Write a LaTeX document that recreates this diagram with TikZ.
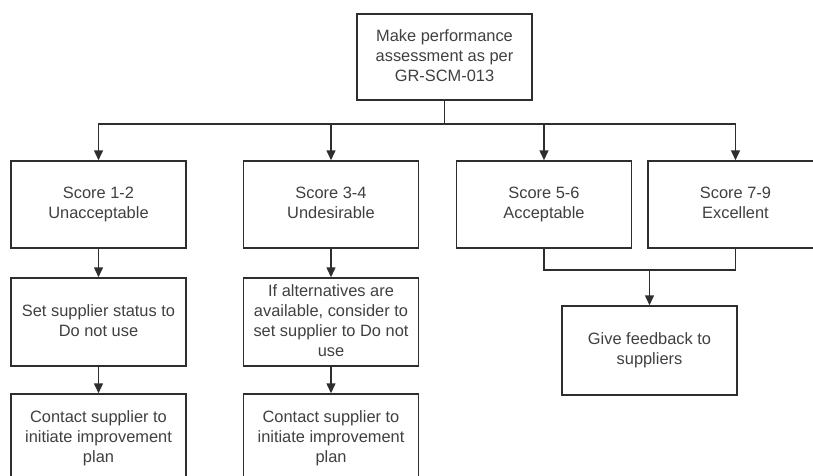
\documentclass[tikz,border=0pt]{standalone}
\usepackage{fontspec}
\setmainfont{Liberation Sans}
\usetikzlibrary{arrows.meta}
\definecolor{linec}{HTML}{2E2E2E}
\definecolor{textc}{HTML}{404040}
\tikzset{
  box/.style={draw=linec, line width=1.5pt, fill=white, rectangle, minimum width=175pt, minimum height=87pt,
    align=center, text=textc, inner sep=0pt, font=\fontsize{16.4}{20}\selectfont,
    execute at begin node={\vphantom{Ay}}, execute at end node={\vphantom{Ay}}},
  conn/.style={draw=linec, line width=1.5pt},
  arr/.style={conn, -{Triangle[length=10pt,width=9pt]}}
}
\begin{document}
\begin{tikzpicture}[x=1pt,y=-1pt]
\useasboundingbox (0,0) rectangle (813,476);
\node[box, minimum height=86pt] (top) at (444.5,57) {Make performance\\assessment as per\\GR-SCM-013};
\node[box] (b1) at (98.5,204.5) {Score 1-2\\Unacceptable};
\node[box] (b2) at (331,204.5) {Score 3-4\\Undesirable};
\node[box] (b3) at (544,204.5) {Score 5-6\\Acceptable};
\node[box] (b4) at (735.5,204.5) {Score 7-9\\Excellent};
\node[box, minimum height=88pt] (c1) at (98.5,322) {Set supplier status to\\Do not use};
\node[box, minimum height=88pt] (c2) at (331,322) {If alternatives are\\available, consider to\\set supplier to Do not\\use};
\node[box, minimum height=88pt] (d1) at (98.5,438) {Contact supplier to\\initiate improvement\\plan};
\node[box, minimum height=88pt] (d2) at (331,438) {Contact supplier to\\initiate improvement\\plan};
\node[box, minimum height=89pt] (fb) at (649.5,350.5) {Give feedback to\\suppliers};
\coordinate (bus) at (444.5,124);
\coordinate (join) at (649.5,270);
\draw[conn] (top.south) -- (bus);
\draw[arr] (bus) -| (b1.north);
\draw[arr] (bus) -| (b2.north);
\draw[arr] (bus) -| (b3.north);
\draw[arr] (bus) -| (b4.north);
\draw[arr] (b1.south) -- (c1.north);
\draw[arr] (c1.south) -- (d1.north);
\draw[arr] (b2.south) -- (c2.north);
\draw[arr] (c2.south) -- (d2.north);
\draw[conn] (b3.south) |- (join) -| (b4.south);
\draw[arr] (join) -- (fb.north);
\end{tikzpicture}
\end{document}
